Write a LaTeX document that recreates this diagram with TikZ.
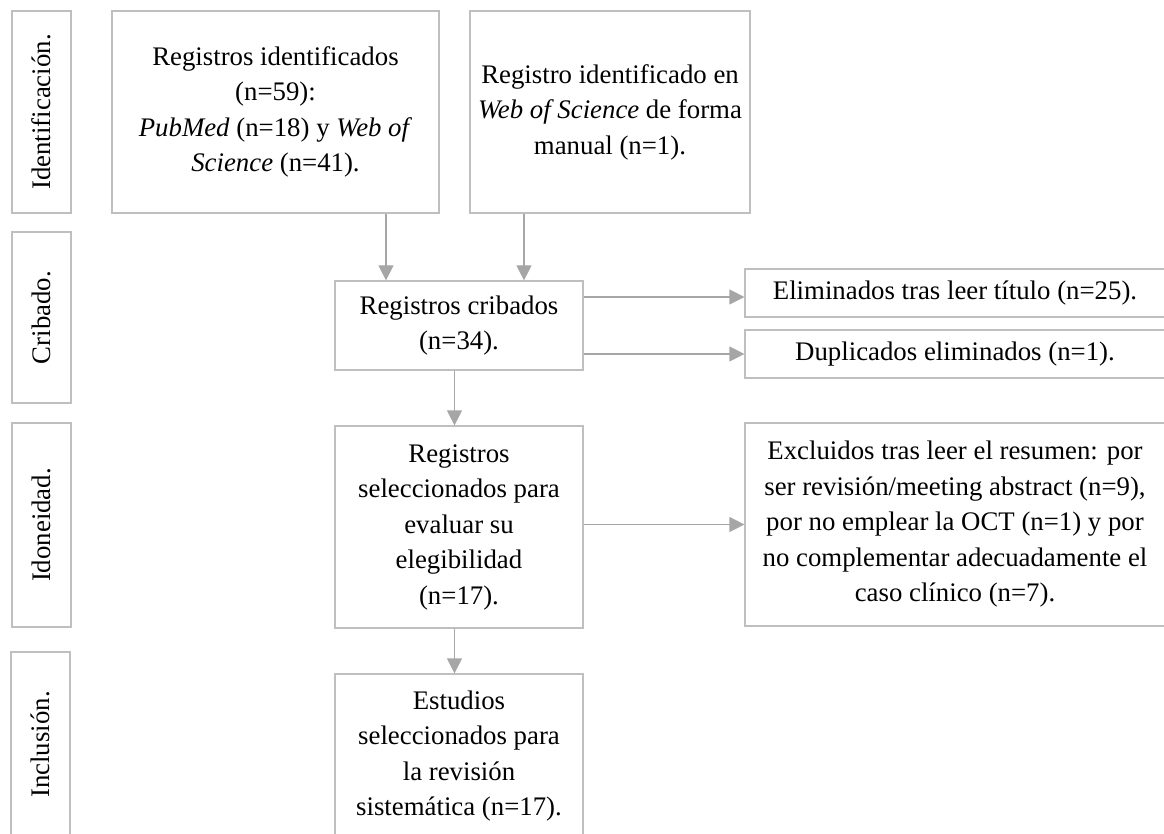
\documentclass[tikz,border=0pt]{standalone}
\usepackage{fontspec}
\setmainfont{Liberation Serif}
\usetikzlibrary{arrows.meta,positioning,calc}
\definecolor{boxgray}{RGB}{191,191,191}
\definecolor{arrowgray}{RGB}{166,166,166}

\begin{document}
\begin{tikzpicture}[x=1pt, y=-1pt,
        box/.style={draw=boxgray, line width=1.2pt, align=center, inner sep=0pt,
          font=\fontsize{26.8}{35.5}\selectfont},
        stage/.style={box, rotate=90, minimum height=59pt},
        arr/.style={draw=arrowgray, line width=1.2pt, -{Triangle[length=15pt, width=15pt]}}]
        
        \useasboundingbox (0,0) rectangle (1164,834);
        \clip (0,0) rectangle (1164,834);
        
        % stage labels
        \node[stage, minimum width=202pt] (idlab) at (41.5,112) {Identificación.};
        \node[stage, minimum width=171pt] (crlab) at (41.5,317.5) {Cribado.};
        \node[stage, minimum width=204pt] (idolab) at (41.5,525) {Idoneidad.};
        \node[stage, minimum width=185pt] (inclab) at (40.5,744.5) {Inclusión.};
        
        \node[box, minimum width=327pt, minimum height=202pt] (reg1) at (275.5,112)
          {Registros identificados\\(n=59):\\\textit{PubMed} (n=18) y \textit{Web of}\\\textit{Science} (n=41).};
        \node[box, minimum width=280pt, minimum height=202pt] (reg2) at (610,112)
          {Registro identificado en\\\textit{Web of Science} de forma\\manual (n=1).};
        \node[box, minimum width=248pt, minimum height=89pt] (crib) at (459,325.5)
          {Registros cribados\\(n=34).};
        \node[box, minimum width=420pt, minimum height=48pt] (elim) at (955,293)
          {Eliminados tras leer título (n=25).};
        \node[box, minimum width=420pt, minimum height=48pt] (dupl) at (955,354)
          {Duplicados eliminados (n=1).};
        \node[box, minimum width=248pt, minimum height=202pt] (sel) at (459,527)
          {Registros\\seleccionados para\\evaluar su\\elegibilidad\\(n=17).};
        \node[box, minimum width=420pt, minimum height=203pt] (excl) at (955,524.5)
          {Excluidos tras leer el resumen: por\\ser revisión/meeting abstract (n=9),\\por no emplear la OCT (n=1) y por\\no complementar adecuadamente el\\caso clínico (n=7).};
        \node[box, minimum width=248pt, minimum height=164pt] (est) at (459,756)
          {Estudios\\seleccionados para\\la revisión\\sistemática (n=17).};
        
        % connectors
        \coordinate (a1) at ([xshift=-73pt]crib.north);
        \coordinate (a2) at ([xshift=65pt]crib.north);
        \coordinate (e1) at ([yshift=28.5pt]crib.east);
        \coordinate (e2) at ([yshift=-28.5pt]crib.east);
        \draw[arr] (reg1.south -| a1) -- (a1);
        \draw[arr] (reg2.south -| a2) -- (a2);
        \draw[arr] (e1) -- (e1 -| elim.west);
        \draw[arr] (e2) -- (e2 -| dupl.west);
        \draw[arr] ([xshift=-4.5pt]crib.south) -- ([xshift=-4.5pt]sel.north);
        \draw[arr] (sel.east |- excl.west) -- (excl.west);
        \draw[arr] ([xshift=-4.5pt]sel.south) -- ([xshift=-4.5pt]est.north);
      \end{tikzpicture}
\end{document}
